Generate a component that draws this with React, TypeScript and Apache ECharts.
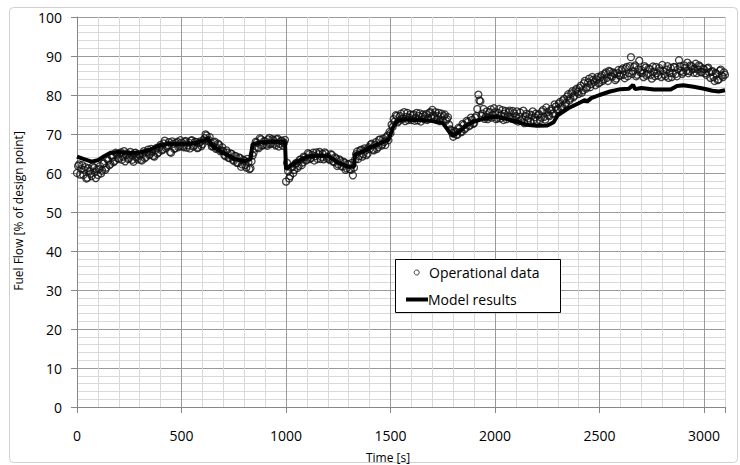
import React, { useEffect, useRef } from "react";
import * as echarts from "echarts";

// Operational data: samples every 10 s from 0 s (set A) and from 5 s (set B)
const opStep = 10;
const opOffsetB = 5;
const opValuesA = [
  60.0, 62.2, 61.0, 59.5, 61.5, 58.8, 60.5, 59.2, 61.3, 58.7,
  59.5, 61.8, 60.6, 62.5, 61.4, 63.2, 62.3, 64.0, 63.1, 64.8,
  63.6, 65.3, 64.2, 63.0, 65.0, 63.8, 64.6, 62.9, 65.2, 63.5,
  64.5, 63.2, 65.6, 64.1, 66.0, 64.8, 65.5, 64.2, 66.4, 65.3,
  67.2, 66.0, 68.3, 66.8, 67.9, 65.2, 67.5, 66.4, 68.0, 66.9,
  67.8, 66.6, 68.2, 67.1, 66.3, 68.4, 67.0, 67.9, 66.5, 68.1,
  67.4, 68.9, 69.6, 68.5, 67.8, 66.9, 68.0, 66.4, 67.2, 65.8,
  65.6, 64.3, 65.2, 63.8, 64.9, 63.1, 64.3, 62.6, 63.8, 62.2,
  63.2, 61.4, 62.8, 61.2, 64.5, 66.3, 67.8, 66.4, 68.6, 67.2,
  68.1, 67.0, 69.0, 67.6, 68.4, 67.1, 68.8, 67.5, 68.3, 67.8,
  57.8, 60.5, 59.2, 61.6, 60.8, 62.6, 61.8, 63.4, 62.7, 64.0,
  63.4, 64.8, 63.9, 65.2, 64.3, 63.6, 65.4, 64.1, 63.5, 65.0,
  64.2, 63.3, 64.6, 62.8, 63.7, 62.2, 63.2, 61.6, 62.6, 61.2,
  62.2, 60.8, 59.4, 63.4, 65.5, 64.3, 66.0, 64.8, 65.8, 65.0,
  66.2, 67.5, 65.8, 67.9, 66.6, 68.6, 67.3, 68.0, 69.2, 68.4,
  70.2, 71.8, 73.2, 74.6, 73.4, 75.2, 74.0, 73.3, 75.4, 74.2,
  73.6, 75.0, 74.2, 73.5, 75.3, 74.4, 73.8, 75.1, 74.0, 75.6,
  76.2, 74.3, 73.6, 75.4, 74.5, 73.4, 75.0, 73.8, 72.4, 71.0,
  69.3, 70.6, 69.8, 71.4, 70.5, 72.3, 71.6, 73.1, 72.2, 73.6,
  72.8, 74.6, 80.1, 78.4, 75.2, 73.9, 75.8, 74.3, 76.3, 74.9,
  75.6, 74.1, 76.4, 74.8, 73.6, 75.9, 74.5, 76.0, 73.9, 75.3,
  74.6, 73.2, 75.5, 73.8, 72.8, 75.2, 74.0, 73.1, 75.8, 74.3,
  73.4, 75.1, 74.2, 76.2, 73.7, 75.6, 74.6, 76.4, 75.3, 77.0,
  76.4, 78.2, 77.1, 79.0, 78.0, 80.2, 79.1, 81.0, 79.8, 81.6,
  80.3, 82.4, 81.2, 83.6, 82.0, 84.2, 82.8, 83.9, 82.5, 84.6,
  83.2, 85.1, 84.0, 85.8, 83.6, 86.0, 84.7, 85.5, 84.2, 86.4,
  85.0, 86.8, 84.3, 87.2, 85.6, 89.7, 86.1, 87.6, 85.2, 88.8,
  86.4, 84.6, 87.0, 85.4, 86.6, 84.2, 86.0, 87.2, 85.0, 86.3,
  87.7, 85.3, 86.5, 84.4, 86.9, 85.6, 87.1, 84.8, 88.9, 86.2,
  85.8, 87.0, 88.3, 86.1, 87.4, 85.7, 88.0, 86.5, 87.3, 85.9,
  86.6, 85.2, 87.0, 84.4, 86.1, 83.6, 85.4, 84.0, 86.5, 84.6,
  85.2,
];
const opValuesB = [
  61.8, 59.6, 62.0, 60.8, 58.6, 61.2, 59.8, 61.7, 60.2, 60.9,
  61.0, 59.9, 62.4, 60.8, 63.6, 62.0, 64.4, 62.8, 65.2, 63.8,
  65.0, 63.4, 65.6, 64.6, 63.6, 65.4, 63.4, 65.1, 64.0, 64.8,
  63.4, 65.0, 63.8, 65.3, 64.6, 66.2, 64.4, 65.9, 65.0, 66.6,
  65.8, 67.6, 66.4, 67.2, 65.4, 68.1, 66.2, 67.7, 66.6, 68.4,
  66.9, 68.0, 66.5, 67.8, 68.3, 66.8, 68.0, 66.4, 67.7, 66.9,
  68.4, 69.9, 68.2, 69.2, 66.8, 67.8, 66.2, 67.5, 65.6, 66.6,
  64.6, 65.8, 63.9, 65.0, 63.4, 64.4, 62.6, 64.0, 61.6, 63.4,
  62.0, 63.6, 61.0, 63.0, 65.2, 68.0, 66.6, 68.9, 67.0, 68.2,
  67.3, 68.6, 67.4, 68.7, 67.5, 68.6, 66.8, 68.2, 67.0, 68.5,
  62.6, 58.6, 61.4, 60.0, 62.4, 61.3, 63.4, 62.0, 64.2, 63.2,
  65.1, 63.6, 64.6, 63.2, 65.3, 64.8, 63.6, 64.9, 65.3, 63.8,
  63.6, 64.8, 63.0, 64.0, 61.8, 63.5, 61.8, 62.9, 60.8, 62.3,
  61.0, 62.6, 61.4, 64.8, 63.6, 65.8, 64.2, 66.3, 64.6, 66.6,
  67.3, 66.0, 67.2, 66.2, 68.5, 67.0, 68.8, 67.2, 69.6, 70.5,
  72.4, 73.8, 74.8, 73.0, 74.6, 73.8, 75.6, 74.4, 73.6, 75.0,
  74.8, 73.4, 75.4, 74.6, 73.2, 75.0, 74.6, 73.6, 75.4, 74.2,
  74.8, 75.6, 74.6, 73.3, 75.2, 74.6, 73.4, 74.3, 71.2, 70.2,
  70.8, 69.8, 71.6, 70.6, 72.6, 71.2, 73.4, 72.0, 74.2, 72.6,
  74.2, 76.4, 78.6, 74.6, 76.4, 74.4, 73.8, 75.6, 74.2, 76.6,
  73.8, 75.4, 74.0, 76.1, 75.2, 73.8, 75.6, 74.4, 75.9, 73.6,
  75.8, 74.4, 73.4, 76.0, 74.6, 73.4, 75.0, 74.8, 73.6, 75.2,
  74.8, 73.6, 75.8, 74.4, 76.8, 74.8, 76.0, 75.2, 77.6, 76.2,
  77.8, 76.8, 78.6, 77.6, 79.6, 78.6, 80.4, 79.4, 81.2, 80.8,
  81.8, 80.6, 83.0, 81.6, 83.2, 82.0, 84.6, 83.4, 84.0, 83.0,
  84.6, 83.6, 85.4, 84.4, 86.2, 84.8, 85.8, 83.8, 85.6, 85.0,
  86.4, 85.2, 86.8, 84.8, 87.4, 85.4, 87.2, 84.8, 86.6, 85.8,
  85.6, 87.4, 85.0, 86.8, 85.2, 87.3, 84.8, 85.6, 86.9, 84.6,
  86.2, 84.8, 87.4, 85.6, 84.6, 87.2, 85.4, 86.6, 87.4, 85.4,
  87.6, 86.2, 85.6, 87.6, 86.6, 86.8, 85.6, 87.6, 85.8, 86.8,
  85.6, 86.8, 85.8, 86.0, 84.6, 85.6, 83.8, 86.2, 85.0, 85.8,
];

// Model results
const modelTime = [
  0, 30, 70, 100, 130, 160, 200, 250, 300, 350, 400, 450, 500, 560, 600, 625,
  650, 700, 750, 800, 830, 840, 870, 920, 960, 995, 1000, 1030, 1070, 1100,
  1150, 1200, 1250, 1300, 1325, 1330, 1370, 1400, 1450, 1490, 1510, 1530, 1560,
  1600, 1650, 1700, 1750, 1780, 1800, 1830, 1860, 1900, 1950, 2000, 2050, 2100,
  2150, 2200, 2250, 2280, 2300, 2350, 2400, 2430, 2440, 2460, 2500, 2550, 2600,
  2640, 2660, 2670, 2700, 2760, 2840, 2870, 2900, 2950, 3000, 3040, 3070, 3100,
];
const modelValue = [
  64.2, 63.6, 62.9, 63.3, 64.3, 65.2, 65.4, 65.1, 65.2, 66.0, 67.2, 67.5, 67.5, 67.6, 68.2, 68.8,
  66.8, 65.2, 63.6, 63.1, 63.6, 67.4, 67.8, 68.0, 68.1, 68.0, 61.0, 62.2, 63.4, 64.2,
  64.4, 64.4, 62.6, 61.6, 61.6, 64.8, 65.6, 66.5, 67.6, 68.5, 71.5, 73.2, 73.8,
  73.6, 73.6, 73.3, 72.8, 70.6, 69.5, 70.6, 72.1, 73.2, 74.0, 74.4, 73.9, 73.2,
  72.4, 72.1, 72.2, 73.0, 74.8, 76.6, 77.9, 78.7, 78.3, 79.2, 80.0, 80.9, 81.5,
  81.6, 82.6, 81.5, 81.8, 81.4, 81.4, 82.3, 82.5, 82.1, 81.6, 81.1, 80.9, 81.2,
];

const seriesNames = ["Operational data", "Model results"];
const xTitle = "Time [s]";
const yTitle = "Fuel Flow [% of design point]";

const FONT = "'Open Sans', 'Liberation Sans', sans-serif";

export default function App() {
  const ref = useRef<HTMLDivElement>(null);

  useEffect(() => {
    document.body.style.margin = "0";
    if (!ref.current) return;
    const chart = echarts.init(ref.current, undefined, { renderer: "svg" });

    const opData: number[][] = [];
    opValuesA.forEach((v, i) => {
      opData.push([i * opStep, v]);
      if (i < opValuesB.length) opData.push([i * opStep + opOffsetB, opValuesB[i]]);
    });
    const modelData = modelTime.map((t, i) => [t, modelValue[i]]);

    const major = "#9a9a9a";
    const minor = "#d9d9d9";
    const LZ = 100;

    chart.setOption({
      animation: false,
      backgroundColor: "#fff",
      grid: { left: 77, top: 17, width: 648, height: 390, containLabel: false },
      xAxis: [
        {
          type: "value",
          min: 0,
          max: 3100,
          interval: 100,
          axisLine: { show: false },
          axisTick: { show: false },
          axisLabel: {
            margin: 21,
            color: "#000",
            fontSize: 14,
            fontFamily: FONT,
            formatter: (v: number) => (v % 500 === 0 ? String(v) : ""),
          },
          splitLine: {
            show: true,
            lineStyle: { color: [major, minor, minor, minor, minor], width: 1 },
          },
        },
        {
          type: "value",
          min: 0,
          max: 3100,
          interval: 500,
          position: "bottom",
          axisLine: { show: true, onZero: false, lineStyle: { color: "#868686" } },
          axisTick: { show: true, inside: false, length: 6, lineStyle: { color: "#868686" } },
          axisLabel: { show: false },
          splitLine: { show: false },
        },
      ],
      yAxis: {
        type: "value",
        min: 0,
        max: 100,
        interval: 10,
        axisLine: { show: true, lineStyle: { color: "#868686" } },
        axisTick: { show: true, length: 6, lineStyle: { color: "#868686" } },
        axisLabel: { margin: 15, color: "#000", fontSize: 14, fontFamily: FONT },
        splitLine: { show: true, lineStyle: { color: major } },
        minorTick: { show: false, splitNumber: 5 },
        minorSplitLine: { show: true, lineStyle: { color: minor } },
      },
      series: [
        {
          name: seriesNames[0],
          type: "scatter",
          xAxisIndex: 0,
          data: opData,
          symbol: "circle",
          symbolSize: 7,
          itemStyle: { color: "rgba(0,0,0,0)", borderColor: "#111", borderWidth: 1.3 },
          z: 2,
        },
        {
          name: seriesNames[1],
          type: "line",
          xAxisIndex: 0,
          data: modelData,
          showSymbol: false,
          symbol: "none",
          lineStyle: { color: "#000", width: 4 },
          z: 3,
        },
      ],
      graphic: [
        {
          type: "rect",
          z: 0,
          shape: { x: 9.5, y: 7.5, width: 728, height: 455, r: 4 },
          style: { fill: "none", stroke: "#d0d0d0", lineWidth: 1 },
          silent: true,
        },
        {
          type: "text",
          x: 388,
          y: 457,
          style: {
            text: xTitle,
            align: "center",
            verticalAlign: "middle",
            fill: "#000",
            font: `12px ${FONT}`,
          },
        },
        {
          type: "text",
          x: 18,
          y: 211,
          rotation: Math.PI / 2,
          style: {
            text: yTitle,
            align: "center",
            verticalAlign: "middle",
            fill: "#000",
            font: `12px ${FONT}`,
          },
        },
        {
          type: "rect",
          z: LZ,
          shape: { x: 395.5, y: 259.5, width: 165, height: 53 },
          style: { fill: "#fff", stroke: "#000", lineWidth: 1 },
        },
        {
          type: "circle",
          z: LZ + 1,
          shape: { cx: 416.7, cy: 272.5, r: 2.5 },
          style: { fill: "none", stroke: "#333", lineWidth: 1 },
        },
        {
          type: "text",
          z: LZ + 1,
          x: 429,
          y: 272.5,
          style: {
            text: seriesNames[0],
            verticalAlign: "middle",
            fill: "#000",
            font: `14px ${FONT}`,
          },
        },
        {
          type: "line",
          z: LZ + 1,
          shape: { x1: 406, y1: 299.5, x2: 428, y2: 299.5 },
          style: { stroke: "#000", lineWidth: 4 },
        },
        {
          type: "text",
          z: LZ + 1,
          x: 428,
          y: 299.5,
          style: {
            text: seriesNames[1],
            verticalAlign: "middle",
            fill: "#000",
            font: `14px ${FONT}`,
          },
        },
      ],
    });

    return () => chart.dispose();
  }, []);

  return <div ref={ref} style={{ width: 740, height: 465 }} />;
}
